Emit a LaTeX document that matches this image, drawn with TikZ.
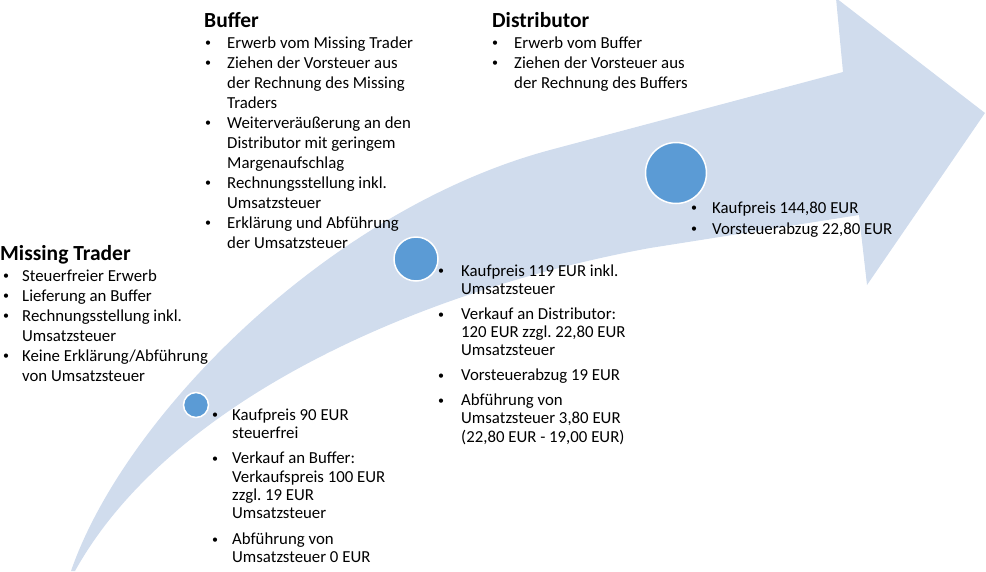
\documentclass[tikz,border=0pt]{standalone}
\usepackage{fontspec}
\setmainfont{Carlito}
\usepackage{xcolor}
\definecolor{colorArrow}{RGB}{208,220,237}
\definecolor{colorDot}{RGB}{91,155,213}
\usepackage{tikz}
\usetikzlibrary{positioning}
\newcommand{\bl}{\raisebox{1.2pt}{\fontsize{12}{12}\selectfont\textbullet}}
\frenchspacing

\begin{document}
\begin{tikzpicture}[x=1pt, y=-1pt,
  head/.style={anchor=base west, inner sep=0pt, font=\fontsize{21.5}{25}\selectfont\bfseries},
  list/.style={anchor=base west, inner sep=0pt, font=\fontsize{16.8}{20}\selectfont},
  tight/.style={anchor=base west, inner sep=0pt, font=\fontsize{16.8}{18.2}\selectfont},
  dot/.style={circle, fill=colorDot, draw=white, line width=1.5pt, inner sep=0pt}]
\useasboundingbox (0,0) rectangle (986,571);
% curved arrow
\fill[colorArrow] (71,571) .. controls (125,415) and (330,209) .. (550,150) -- (843,72) -- (836,-2) -- (985,113) -- (867,285) -- (859,215) -- (650,248) .. controls (420,290) and (170,400) .. (75,571) -- cycle;
% stations
\node[dot, minimum size=25pt] (c1) at (196,405) {};
\node[dot, minimum size=44pt] (c2) at (416,259) {};
\node[dot, minimum size=61pt] (c3) at (676,173) {};
% actors
\node[head] (mt) at (0,260) {Missing Trader};
\node[list] (mtlist) at (3,281) {\begin{tabular}[t]{@{}p{19pt}@{}l@{}}
\bl & Steuerfreier Erwerb\\
\bl & Lieferung an Buffer\\
\bl & Rechnungsstellung inkl.\\
    & Umsatzsteuer\\
\bl & Keine Erkl\"arung/Abf\"uhrung\\
    & von Umsatzsteuer
\end{tabular}};
\node[head] (buf) at (204,27) {Buffer};
\node[list] (buflist) at (205,48) {\begin{tabular}[t]{@{}p{22pt}@{}l@{}}
\bl & Erwerb vom Missing Trader\\
\bl & Ziehen der Vorsteuer aus\\
    & der Rechnung des Missing\\
    & Traders\\
\bl & Weiterver\"au\ss erung an den\\
    & Distributor mit geringem\\
    & Margenaufschlag\\
\bl & Rechnungsstellung inkl.\\
    & Umsatzsteuer\\
\bl & Erkl\"arung und Abf\"uhrung\\
    & der Umsatzsteuer
\end{tabular}};
\node[head] (dist) at (492,27) {Distributor};
\node[list] (distlist) at (492,48) {\begin{tabular}[t]{@{}p{22pt}@{}l@{}}
\bl & Erwerb vom Buffer\\
\bl & Ziehen der Vorsteuer aus\\
    & der Rechnung des Buffers
\end{tabular}};
% amounts
\node[tight] (l1) at (212,420) {\begin{tabular}[t]{@{}p{20pt}@{}l@{}}
\bl & Kaufpreis 90 EUR\\
    & steuerfrei\\[7.5pt]
\bl & Verkauf an Buffer:\\
    & Verkaufspreis 100 EUR\\
    & zzgl. 19 EUR\\
    & Umsatzsteuer\\[7.5pt]
\bl & Abf\"uhrung von\\
    & Umsatzsteuer 0 EUR
\end{tabular}};
\node[tight] (l2) at (438,276) {\begin{tabular}[t]{@{}p{23pt}@{}l@{}}
\bl & Kaufpreis 119 EUR inkl.\\
    & Umsatzsteuer\\[6.8pt]
\bl & Verkauf an Distributor:\\
    & 120 EUR zzgl. 22,80 EUR\\
    & Umsatzsteuer\\[6.8pt]
\bl & Vorsteuerabzug 19 EUR\\[6.8pt]
\bl & Abf\"uhrung von\\
    & Umsatzsteuer 3,80 EUR\\
    & (22,80 EUR - 19,00 EUR)
\end{tabular}};
\node[list, font=\fontsize{16.8}{21}\selectfont] (l3) at (691,213) {\begin{tabular}[t]{@{}p{21pt}@{}l@{}}
\bl & Kaufpreis 144,80 EUR\\
\bl & Vorsteuerabzug 22,80 EUR
\end{tabular}};
\end{tikzpicture}
\end{document}
